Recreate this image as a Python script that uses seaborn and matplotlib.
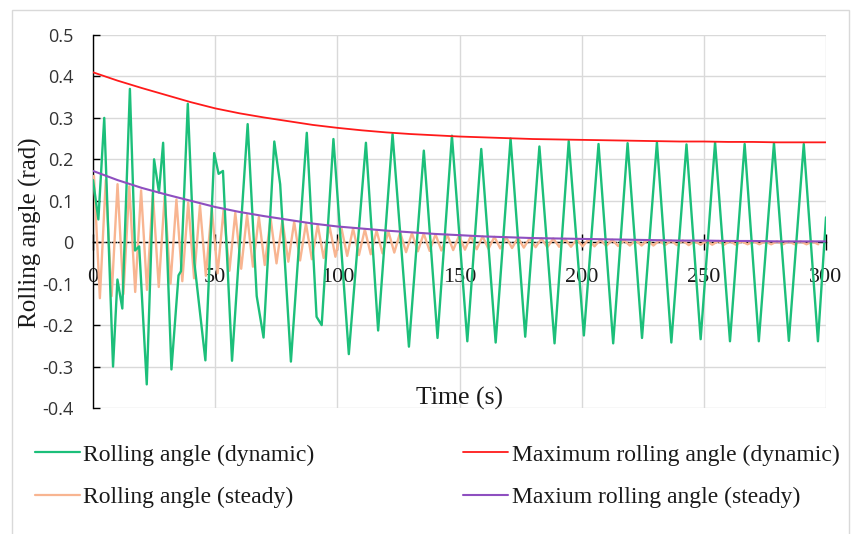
import numpy as np
import pandas as pd
import matplotlib
matplotlib.use("Agg")
import matplotlib.pyplot as plt
import seaborn as sns
from matplotlib.lines import Line2D
from matplotlib.patches import Rectangle

# ---------------- data ----------------
# Rolling angle (dynamic): extrema / turning points
green_t = [0, 2.2, 4.6, 8.2, 10.0, 12.0, 15.1, 17.2, 18.9, 22.0,
           25.0, 27.0, 28.7, 32.1, 35.0, 36.0, 38.8, 41.5, 46.0, 49.6,
           51.4, 53.2, 56.9, 63.3, 67.0, 69.8, 74.2, 76.6, 81.0, 87.5,
           91.5, 93.6, 98.4, 104.7, 111.7, 116.7, 122.6, 129.3, 135.4, 141.0,
           146.9, 153.2, 158.9, 164.8, 170.9, 176.9, 182.7, 188.9, 194.7, 200.9,
           206.9, 212.9, 218.8, 224.7, 230.8, 236.7, 242.9, 248.7, 254.6, 260.7,
           266.7, 272.5, 278.7, 284.8, 290.9, 296.7, 300.0]
green_v = [0.15, 0.055, 0.30, -0.30, -0.09, -0.16, 0.37, -0.02, -0.01, -0.343,
           0.20, 0.12, 0.24, -0.307, -0.08, -0.07, 0.334, -0.05, -0.285, 0.215,
           0.165, 0.172, -0.286, 0.285, -0.13, -0.23, 0.243, 0.14, -0.288, 0.264,
           -0.18, -0.20, 0.249, -0.27, 0.24, -0.213, 0.261, -0.252, 0.221, -0.231,
           0.257, -0.239, 0.225, -0.242, 0.25, -0.228, 0.231, -0.244, 0.244, -0.225,
           0.237, -0.244, 0.239, -0.231, 0.241, -0.242, 0.236, -0.234, 0.241, -0.239,
           0.237, -0.239, 0.239, -0.238, 0.237, -0.239, 0.06]

# Rolling angle (steady): successive peak and trough values, one per cycle
orange_peaks = [0.16, 0.15, 0.14, 0.135, 0.125, 0.118, 0.11, 0.103, 0.096, 0.089,
                0.083, 0.077, 0.071, 0.066, 0.061, 0.057, 0.053, 0.049, 0.045, 0.042,
                0.039, 0.036, 0.033, 0.031, 0.028, 0.026, 0.024, 0.022, 0.021, 0.019,
                0.018, 0.016, 0.015, 0.014, 0.013, 0.012, 0.011, 0.010, 0.009, 0.009,
                0.008, 0.007, 0.007, 0.006, 0.006, 0.005, 0.005, 0.005, 0.004, 0.004,
                0.004, 0.003, 0.003, 0.003, 0.003, 0.002, 0.002, 0.002, 0.002, 0.002,
                0.002, 0.002]
orange_troughs = [-0.135, -0.13, -0.125, -0.12, -0.115, -0.108, -0.10, -0.094, -0.087, -0.081,
                  -0.075, -0.069, -0.064, -0.059, -0.055, -0.051, -0.047, -0.044, -0.041, -0.038,
                  -0.035, -0.033, -0.031, -0.029, -0.027, -0.025, -0.024, -0.022, -0.021, -0.020,
                  -0.019, -0.018, -0.017, -0.016, -0.015, -0.014, -0.013, -0.012, -0.012, -0.011,
                  -0.011, -0.010, -0.010, -0.009, -0.009, -0.008, -0.008, -0.008, -0.007, -0.007,
                  -0.007, -0.006, -0.006, -0.006, -0.006, -0.005, -0.005, -0.005, -0.005, -0.005,
                  -0.005, -0.005]
orange_start = 0.4      # time of first peak (s)
orange_half_period = 2.41

# Envelopes sampled every 10 s from 0 to 300 s
env_t = list(range(0, 301, 10))
red_v = [0.410, 0.390, 0.372, 0.355, 0.338, 0.323, 0.311, 0.301, 0.292, 0.283,
         0.276, 0.270, 0.265, 0.261, 0.258, 0.255, 0.253, 0.251, 0.249, 0.248,
         0.247, 0.246, 0.245, 0.244, 0.243, 0.243, 0.242, 0.242, 0.241, 0.241, 0.241]
purple_v = [0.172, 0.150, 0.131, 0.115, 0.100, 0.085, 0.073, 0.063, 0.054, 0.045,
            0.038, 0.033, 0.028, 0.024, 0.020, 0.017, 0.014, 0.012, 0.010, 0.009,
            0.008, 0.007, 0.006, 0.005, 0.004, 0.004, 0.003, 0.003, 0.002, 0.002, 0.002]

x_ticks = [0, 50, 100, 150, 200, 250, 300]
y_ticks = [-0.4, -0.3, -0.2, -0.1, 0, 0.1, 0.2, 0.3, 0.4, 0.5]
y_tick_labels = ["-0.4", "-0.3", "-0.2", "-0.1", "0", "0.1", "0.2", "0.3", "0.4", "0.5"]

labels = ["Rolling angle (dynamic)", "Rolling angle (steady)",
          "Maximum rolling angle (dynamic)", "Maxium rolling angle (steady)"]
C_GREEN, C_ORANGE, C_RED, C_PURPLE = "#1cbf7a", "#f8b591", "#ff1a1a", "#8e4fc0"

# ---------------- build frames ----------------
orange_v = []
for p, q in zip(orange_peaks, orange_troughs):
    orange_v += [p, q]
orange_t = orange_start + orange_half_period * np.arange(len(orange_v))

df_green = pd.DataFrame({"t": green_t, "v": green_v})
df_orange = pd.DataFrame({"t": orange_t, "v": orange_v})
df_env = pd.DataFrame({"t": env_t, "red": red_v, "purple": purple_v})

# ---------------- figure ----------------
sns.set_theme(style="white")
plt.rcParams['font.family'] = ['Liberation Serif', 'DejaVu Serif']

fig = plt.figure(figsize=(8.56, 5.34), dpi=100)
ax = fig.add_axes([93 / 856, 1 - 408 / 534, 733 / 856, 373 / 534])

sns.lineplot(data=df_orange, x="t", y="v", ax=ax, color=C_ORANGE, linewidth=1.7,
             estimator=None, sort=False, legend=False, zorder=2)
sns.lineplot(data=df_green, x="t", y="v", ax=ax, color=C_GREEN, linewidth=1.7,
             estimator=None, sort=False, legend=False, zorder=3)
sns.lineplot(data=df_env, x="t", y="red", ax=ax, color=C_RED, linewidth=1.3,
             estimator=None, sort=False, legend=False, zorder=4)
sns.lineplot(data=df_env, x="t", y="purple", ax=ax, color=C_PURPLE, linewidth=1.5,
             estimator=None, sort=False, legend=False, zorder=4)
for ln in ax.get_lines():
    ln.set_solid_joinstyle("round")

ax.set_xlim(0, 300)
ax.set_ylim(-0.4, 0.5)
ax.set_xticks(x_ticks)
ax.set_yticks(y_ticks)
ax.set_yticklabels(y_tick_labels)
ax.set_axisbelow(True)
ax.grid(True, color="#d9d9d9", linewidth=1)

for s in ["top", "right"]:
    ax.spines[s].set_visible(False)
ax.spines["left"].set_color("black")
ax.spines["left"].set_linewidth(1)
ax.spines["bottom"].set_position(("data", 0))
ax.spines["bottom"].set_color("black")
ax.spines["bottom"].set_linewidth(1)
ax.spines["bottom"].set_linestyle((0, (3, 1.5)))
ax.spines["bottom"].set_zorder(1.5)
ax.spines["left"].set_zorder(1.5)

ax.tick_params(axis="y", direction="in", length=5, width=1, color="black",
               pad=14, labelsize=13, labelcolor="#333333", left=True)
ax.tick_params(axis="x", direction="inout", length=12, width=1, color="black",
               pad=12.7, labelsize=16, labelcolor="#1a1a1a", bottom=True)
for lab in ax.get_yticklabels():
    lab.set_fontfamily(["Open Sans", "DejaVu Sans"])

ax.set_xlabel("Time (s)", fontsize=18.5, color="#1a1a1a")
ax.xaxis.set_label_coords(0.5, 0.056)
ax.set_ylabel("Rolling angle (rad)", fontsize=18, color="#1a1a1a")
ax.yaxis.set_label_coords(-0.07, 0.47)

handles = [Line2D([], [], color=C_GREEN, lw=1.6),
           Line2D([], [], color=C_ORANGE, lw=1.6),
           Line2D([], [], color=C_RED, lw=1.3),
           Line2D([], [], color=C_PURPLE, lw=1.5)]
fig.legend(handles, labels, ncol=2, loc="upper left",
           bbox_to_anchor=(35 / 856, 1 - 444 / 534), frameon=False,
           prop={"family": ["Liberation Serif", "DejaVu Serif"], "size": 17},
           handlelength=1.9, handletextpad=0.15, columnspacing=6.3,
           labelspacing=0.88, borderpad=0, borderaxespad=0, labelcolor="#1a1a1a")

fig.add_artist(Rectangle((12 / 856, -0.1), (849 - 12) / 856, 1 - 10 / 534 + 0.1,
                         transform=fig.transFigure, fill=False,
                         edgecolor="#d9d9d9", linewidth=1))

fig.savefig("out.png", dpi=100)
